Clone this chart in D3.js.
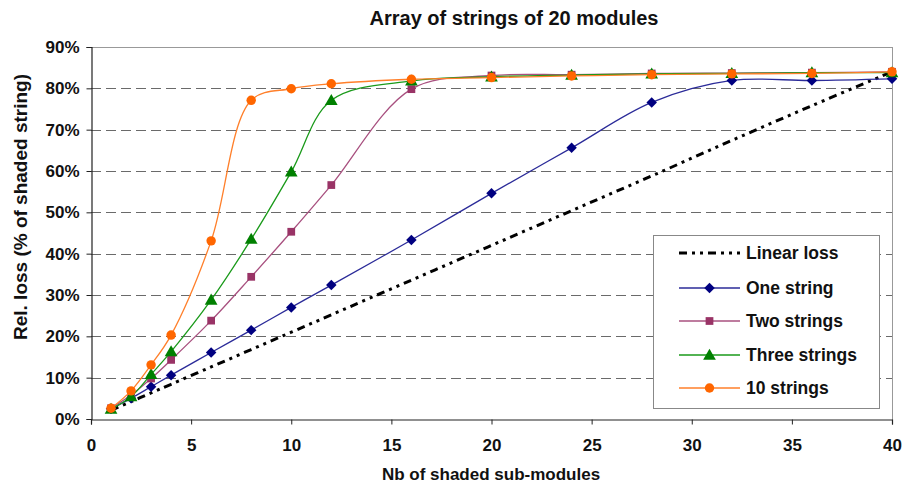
<!DOCTYPE html>
<html>
<head>
<meta charset="utf-8">
<script src="https://cdn.jsdelivr.net/npm/d3@7"></script>
<style>
  html, body { margin: 0; padding: 0; background: #fff; }
  svg { display: block; font-family: "Liberation Sans", Arial, sans-serif; }
</style>
</head>
<body>
<svg id="chart" width="904" height="484"></svg>
<script>
// ---- data ----
const xValues = [1, 2, 3, 4, 6, 8, 10, 12, 16, 20, 24, 28, 32, 36, 40];
const linearLoss = [2.1, 4.2, 6.3, 8.4, 12.6, 16.8, 21.0, 25.2, 33.6, 42.0, 50.4, 58.8, 67.4, 75.8, 84.0];
const oneString = [2.5, 5.0, 7.8, 10.6, 16.1, 21.5, 27.0, 32.4, 43.3, 54.6, 65.6, 76.6, 81.9, 81.9, 82.3];
const twoStrings = [2.6, 5.8, 9.8, 14.3, 23.8, 34.4, 45.3, 56.6, 79.8, 83.1, 83.3, 83.6, 83.7, 83.8, 84.0];
const threeStrings = [2.4, 5.4, 10.8, 16.3, 28.8, 43.5, 59.8, 77.1, 81.8, 82.8, 83.2, 83.5, 83.6, 83.8, 83.8];
const tenStrings = [2.6, 6.8, 13.1, 20.3, 43.1, 77.1, 79.9, 81.1, 82.2, 82.6, 83.0, 83.3, 83.5, 83.6, 84.0];
const seriesNames = ["Linear loss", "One string", "Two strings", "Three strings", "10 strings"];
const xTicks = [0, 5, 10, 15, 20, 25, 30, 35, 40];
const yTicks = [0, 10, 20, 30, 40, 50, 60, 70, 80, 90];
const titleText = "Array of strings of 20 modules";
const xLabel = "Nb of shaded sub-modules";
const yLabel = "Rel. loss (% of shaded string)";

// ---- layout ----
const svg = d3.select("#chart");
const L = 91, R = 892, T = 47, B = 419;
const x = d3.scaleLinear().domain([0, 40]).range([L, R]);
const y = d3.scaleLinear().domain([0, 90]).range([B, T]);

const styles = [
  {line: "#000000", width: 3, dash: "8,5,3,5,3,5", marker: null, fill: null},
  {line: "#2b2b99", width: 1.3, dash: null, marker: "diamond", fill: "#000080"},
  {line: "#a8507f", width: 1.3, dash: null, marker: "square", fill: "#993366"},
  {line: "#1a9a1a", width: 1.3, dash: null, marker: "triangle", fill: "#008000"},
  {line: "#ff7f2a", width: 1.3, dash: null, marker: "circle", fill: "#ff6600"}
];
const allSeries = [linearLoss, oneString, twoStrings, threeStrings, tenStrings];

// gridlines
svg.append("g").selectAll("line").data(yTicks.filter(d => d > 0 && d < 90)).join("line")
  .attr("x1", L).attr("x2", R)
  .attr("y1", d => Math.round(y(d)) + 0.5).attr("y2", d => Math.round(y(d)) + 0.5)
  .attr("stroke", "#6a6a6a").attr("stroke-width", 1).attr("stroke-dasharray", "10,5");

// frame top/right
svg.append("line").attr("x1", L).attr("x2", R + 0.5).attr("y1", T + 0.5).attr("y2", T + 0.5)
  .attr("stroke", "#999").attr("stroke-width", 1);
svg.append("line").attr("x1", R + 0.5).attr("x2", R + 0.5).attr("y1", T).attr("y2", B)
  .attr("stroke", "#999").attr("stroke-width", 1);

// axes
const yAxis = d3.axisLeft(y).tickValues(yTicks).tickFormat(d => d + "%").tickSize(5).tickPadding(7);
const xAxis = d3.axisBottom(x).tickValues(xTicks).tickFormat(d3.format("d")).tickSize(5).tickPadding(14);
const gy = svg.append("g").attr("transform", `translate(${L + 0.5},0)`).call(yAxis);
const gx = svg.append("g").attr("transform", `translate(0,${B + 0.5})`).call(xAxis);
[gx, gy].forEach(g => {
  g.selectAll("path.domain").attr("stroke", "#222").attr("stroke-width", 1.2);
  g.selectAll(".tick line").attr("stroke", "#222");
  g.selectAll("text").attr("font-family", "Liberation Sans, Arial, sans-serif")
    .attr("font-size", 17).attr("font-weight", "bold").attr("fill", "#111");
});

// series
const lineGen = d3.line().x((d, i) => x(xValues[i])).y(d => y(d)).curve(d3.curveCatmullRom.alpha(0.5));

function drawMarker(g, type, cx, cy, fill) {
  if (type === "diamond") {
    g.append("path").attr("d", d3.symbol().type(d3.symbolDiamond2).size(70)())
      .attr("transform", `translate(${cx},${cy})`).attr("fill", fill);
  } else if (type === "square") {
    g.append("path").attr("d", d3.symbol().type(d3.symbolSquare).size(60)())
      .attr("transform", `translate(${cx},${cy})`).attr("fill", fill);
  } else if (type === "triangle") {
    g.append("path").attr("d", d3.symbol().type(d3.symbolTriangle).size(70)())
      .attr("transform", `translate(${cx},${cy + 1})`).attr("fill", fill);
  } else if (type === "circle") {
    g.append("path").attr("d", d3.symbol().type(d3.symbolCircle).size(70)())
      .attr("transform", `translate(${cx},${cy})`).attr("fill", fill);
  }
}

allSeries.forEach((data, si) => {
  const st = styles[si];
  const g = svg.append("g");
  g.append("path").attr("d", lineGen(data)).attr("fill", "none")
    .attr("stroke", st.line).attr("stroke-width", st.width)
    .attr("stroke-dasharray", st.dash);
  if (st.marker) {
    data.forEach((v, i) => drawMarker(g, st.marker, x(xValues[i]), y(v), st.fill));
  }
});

// legend
const lg = svg.append("g");
lg.append("rect").attr("x", 653.5).attr("y", 235.5).attr("width", 226).attr("height", 173)
  .attr("fill", "#fff").attr("stroke", "#888").attr("stroke-width", 1);
const rowY = [253, 288, 321, 355, 388];
seriesNames.forEach((name, i) => {
  const st = styles[i];
  const yy = rowY[i];
  lg.append("line").attr("x1", 679).attr("x2", 740).attr("y1", yy).attr("y2", yy)
    .attr("stroke", st.line).attr("stroke-width", st.width).attr("stroke-dasharray", st.dash);
  if (st.marker) drawMarker(lg, st.marker, 709.5, yy, st.fill);
  lg.append("text").attr("x", 746).attr("y", yy + 6).text(name)
    .attr("font-size", 17.5).attr("font-weight", "bold").attr("fill", "#111");
});

// titles
svg.append("text").attr("x", 514).attr("y", 25).attr("text-anchor", "middle")
  .attr("font-size", 20).attr("font-weight", "bold").attr("fill", "#111").text(titleText);
svg.append("text").attr("x", 491).attr("y", 480).attr("text-anchor", "middle")
  .attr("font-size", 17).attr("font-weight", "bold").attr("fill", "#111").text(xLabel);
svg.append("text").attr("transform", "translate(27,207) rotate(-90)").attr("text-anchor", "middle")
  .attr("font-size", 19).attr("font-weight", "bold").attr("fill", "#111").text(yLabel);
</script>
</body>
</html>
